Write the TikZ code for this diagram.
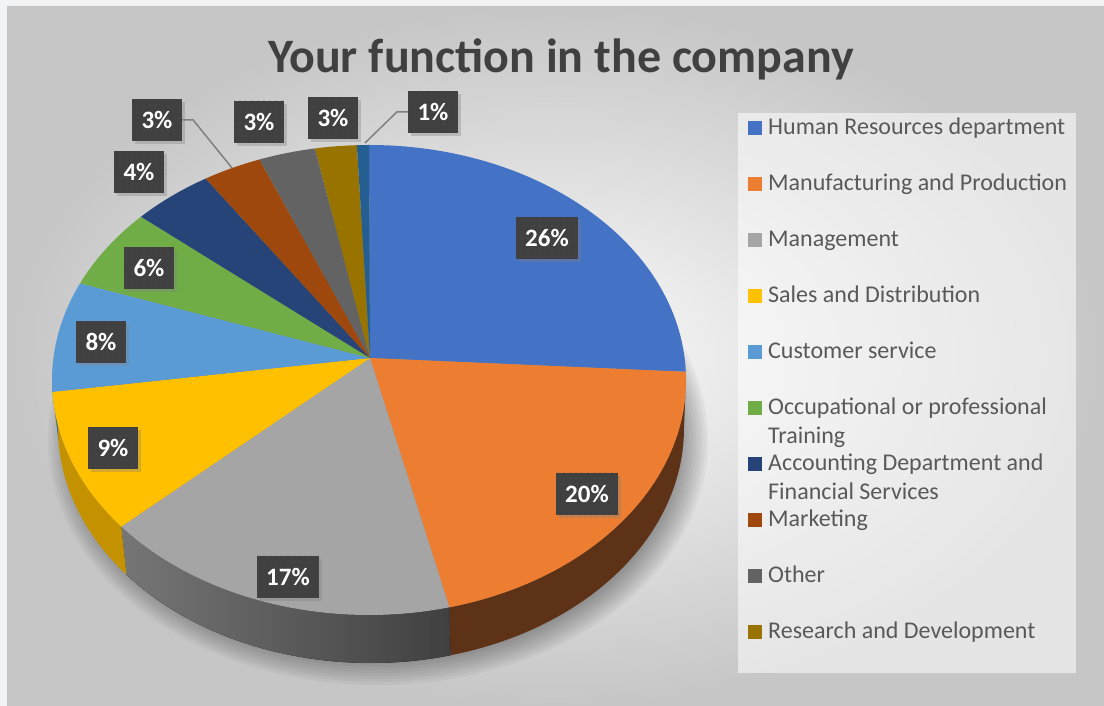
\documentclass[tikz,border=0pt]{standalone}
\usepackage{fontspec}
\setmainfont{Carlito}
\usetikzlibrary{shadows,patterns.meta}
\definecolor{hrblue}{HTML}{4472C4}
\definecolor{mfgorange}{HTML}{ED7D31}
\definecolor{mgmtgray}{HTML}{A5A5A5}
\definecolor{salesyellow}{HTML}{FFC000}
\definecolor{custblue}{HTML}{5B9BD5}
\definecolor{occgreen}{HTML}{70AD47}
\definecolor{acctblue}{HTML}{264478}
\definecolor{mktbrown}{HTML}{9E480E}
\definecolor{othergray}{HTML}{636363}
\definecolor{rdolive}{HTML}{997300}
\definecolor{oneblue}{HTML}{255E91}
\definecolor{lblgray}{HTML}{404040}
\definecolor{dotgray}{HTML}{575757}
\definecolor{leadgray}{HTML}{808080}
\definecolor{titlegray}{HTML}{404040}
\definecolor{legtext}{HTML}{595959}
\definecolor{margin}{HTML}{F1F3F4}
\definecolor{bginner}{HTML}{FBFBFB}
\definecolor{bgouter}{HTML}{C6C6C6}
\tikzset{
  sidemfg/.style={fill={rgb,255:red,94;green,50;blue,22}},
  sidemgmt/.style={left color={rgb,255:red,118;green,118;blue,118}, right color={rgb,255:red,64;green,64;blue,64}},
  sidesales/.style={fill={rgb,255:red,196;green,146;blue,0}},
  sidecust/.style={fill={rgb,255:red,62;green,110;blue,158}}
}
\begin{document}
\begin{tikzpicture}[x=1pt,y=1pt,
  pct/.style={fill=lblgray, text=white, font=\fontsize{25}{30}\selectfont\bfseries,
    inner xsep=9.5pt, inner ysep=0pt, minimum height=42pt,
    drop shadow={opacity=0.35, shadow xshift=3pt, shadow yshift=-3pt},
    postaction={pattern={Dots[distance=6pt, radius=0.7pt]}, pattern color=dotgray}},
  leader/.style={draw=leadgray, line width=1.5pt},
  keybox/.style={minimum size=14pt, inner sep=0pt},
  keytext/.style={anchor=base west, inner sep=0pt, text=legtext,
    font=\fontsize{24}{29}\selectfont, align=left}]
\useasboundingbox (0,0) rectangle (1104,706);
\fill[margin] (0,0) rectangle (1104,706);
\fill[inner color=bginner, outer color=bgouter] (7,0) rectangle (1104,699);
\node[font=\fontsize{48}{58}\selectfont\bfseries, text=titlegray, anchor=base] (title) at (561,633) {Your function in the company};
\foreach \i in {0,...,11}
  \fill[black, opacity=0.04] (378,266) ellipse ({330-3*\i} and {245-3*\i});
\begin{scope}[shift={(369,326)}]
  \foreach \a/\b/\s in {0/-75.3/sidemfg, -75.3/-141.4/sidemgmt, -141.4/-177.1/sidesales, -177.1/-180/sidecust}
    \fill[\s] (\a:317 and 235) arc[start angle=\a, end angle=\b, x radius=317, y radius=235]
      -- ([shift={(2,-48)}]\b:313 and 235) arc[start angle=\b, end angle=\a, x radius=313, y radius=235] -- cycle;
  \foreach \a/\b/\c in {90/2/hrblue, 2/-75.3/mfgorange, -75.3/-141.4/mgmtgray, -141.4/-177.1/salesyellow,
      -177.1/-204.3/custblue, -204.3/-224/occgreen, -224/-239/acctblue, -239/-249.8/mktbrown,
      -249.8/-260.2/othergray, -260.2/-267.8/rdolive, -267.8/-270/oneblue}
    \fill[\c] (1,22) -- (\a:317 and 235) arc[start angle=\a, end angle=\b, x radius=317, y radius=235] -- cycle;
\end{scope}
\fill[white, opacity=0.55] (738,33) rectangle (1076,593);
\foreach \y/\d/\c/\t [count=\k] in {127/0/hrblue/Human Resources department, 183/0/mfgorange/Manufacturing and Production,
    239/0/mgmtgray/Management, 295/0/salesyellow/Sales and Distribution, 351/0/custblue/Customer service,
    407/29/occgreen/Occupational or professional\\Training, 463/29/acctblue/Accounting Department and\\Financial Services,
    519/0/mktbrown/Marketing, 575/0/othergray/Other, 631/0/rdolive/Research and Development} {
  \node[keybox, fill=\c] (key\k) at (755,{705-\y}) {};
  \node[keytext] (txt\k) at (768,{698-\y-\d}) {\t};
}
\node[pct] (p26) at (547,468) {26\%};
\node[pct] (p20) at (587,212) {20\%};
\node[pct] (p17) at (288,129) {17\%};
\node[pct] (p9) at (113,258) {9\%};
\node[pct] (p8) at (101,364) {8\%};
\node[pct] (p6) at (149,438) {6\%};
\node[pct] (p4) at (139,534) {4\%};
\node[pct] (p3a) at (157,586) {3\%};
\node[pct] (p3b) at (259,584) {3\%};
\node[pct] (p3c) at (333,588) {3\%};
\node[pct] (p1) at (433,594) {1\%};
\coordinate (mktpt) at (232,538);
\coordinate (onept) at (365,563);
\draw[leader] (p3a.east) -- ++(11,0) -- (mktpt);
\draw[leader] (p1.west) -- ++(-11,0) -- (onept);
\end{tikzpicture}
\end{document}
